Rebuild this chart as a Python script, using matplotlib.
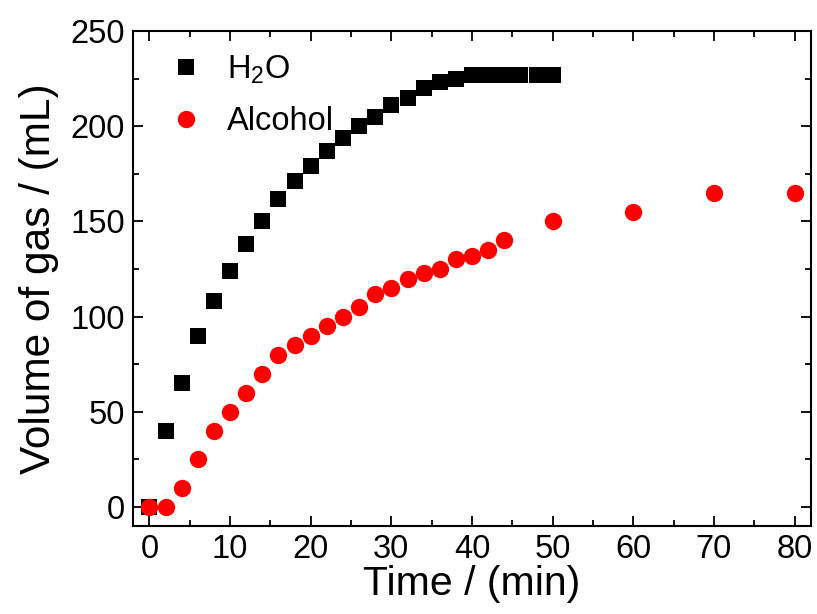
import numpy as np
import matplotlib
matplotlib.use('Agg')
import matplotlib.pyplot as plt
from matplotlib.ticker import MultipleLocator

plt.rcParams['font.family'] = ['Liberation Sans', 'DejaVu Sans']
plt.rcParams['mathtext.fontset'] = 'custom'
plt.rcParams['mathtext.rm'] = 'Liberation Sans'
plt.rcParams['mathtext.it'] = 'Liberation Sans'
plt.rcParams['mathtext.default'] = 'regular'

# data
t_water = [0, 2, 4, 6, 8, 10, 12, 14, 16, 18, 20, 22, 24, 26, 28, 30, 32, 34, 36, 38, 40, 42, 44, 46, 48, 50]
v_water = [0, 40, 65, 90, 108, 124, 138, 150, 162, 171, 179, 187, 194, 200, 205, 211, 215, 220, 223, 225,
           227, 227, 227, 227, 227, 227]

t_alcohol = [0, 2, 4, 6, 8, 10, 12, 14, 16, 18, 20, 22, 24, 26, 28, 30, 32, 34, 36, 38, 40, 42, 44,
             50, 60, 70, 80]
v_alcohol = [0, 0, 10, 25, 40, 50, 60, 70, 80, 85, 90, 95, 100, 105, 112, 115, 120, 123, 125, 130, 132, 135, 140,
             150, 155, 165, 165]

fig = plt.figure(figsize=(8.17, 6.14), dpi=100)
axe = fig.add_axes([0.1632, 0.1433, 0.8291, 0.8062])

axe.plot(t_water, v_water, 's', color='black', markersize=11, markeredgewidth=0, label='H$_2$O')
axe.plot(t_alcohol, v_alcohol, 'o', color='#ff0000', markersize=12.5, markeredgewidth=0, label='Alcohol')

axe.set_xlim(-2, 82)
axe.set_ylim(-10, 250)
axe.xaxis.set_major_locator(MultipleLocator(10))
axe.xaxis.set_minor_locator(MultipleLocator(5))
axe.yaxis.set_major_locator(MultipleLocator(50))
axe.yaxis.set_minor_locator(MultipleLocator(25))
axe.tick_params(which='both', direction='in', top=True, right=True, width=1.3, labelsize=23.5)
axe.tick_params(which='major', length=7.5, pad=6)
axe.tick_params(which='minor', length=4.3)
for sp in axe.spines.values():
	sp.set_linewidth(1.5)

axe.set_xlabel('Time / (min)', fontsize=29.5, labelpad=0)
axe.set_ylabel('Volume of gas / (mL)', fontsize=30.5, labelpad=8)

axe.legend(loc='upper left', bbox_to_anchor=(0.02, 1.0), frameon=False, fontsize=23.5,
           handlelength=1.0, handletextpad=0.75, labelspacing=0.62, borderaxespad=0.3)

plt.savefig('out.png', dpi=100)
